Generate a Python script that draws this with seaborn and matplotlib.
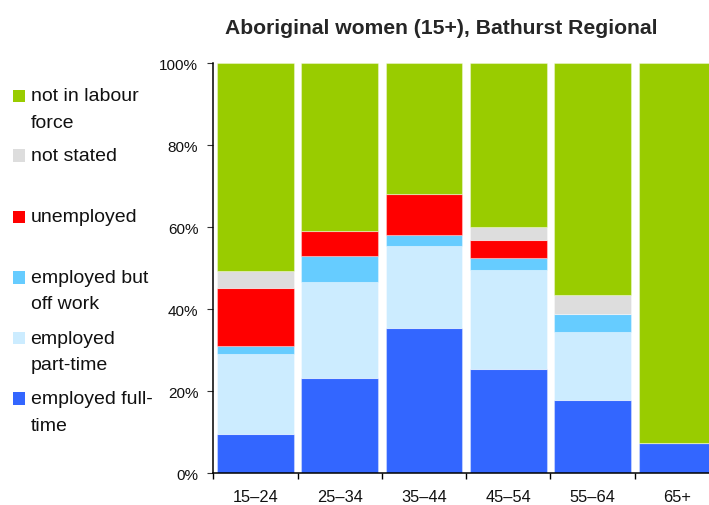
import numpy as np
import pandas as pd
import matplotlib.pyplot as plt
import seaborn as sns
from matplotlib.patches import Rectangle

# Data (percent of Aboriginal women 15+)
age_groups = ['15–24', '25–34', '35–44', '45–54', '55–64', '65+']
full_time = [9.6, 23.2, 35.4, 25.4, 18.0, 7.5]
part_time = [19.5, 23.5, 20.1, 24.1, 16.5, 0.0]
off_work = [2.0, 6.2, 2.6, 3.1, 4.4, 0.0]
unemployed = [14.1, 6.2, 10.0, 4.2, 0.0, 0.0]
not_stated = [4.2, 0.0, 0.0, 3.3, 4.5, 0.0]
not_in_lf = [50.6, 40.9, 32.0, 39.9, 56.6, 92.5]

series = [
    ('employed full-\ntime', full_time, '#3366FF'),
    ('employed\npart-time', part_time, '#CCECFF'),
    ('employed but\noff work', off_work, '#66CCFF'),
    ('unemployed', unemployed, '#FF0000'),
    ('not stated', not_stated, '#DDDDDD'),
    ('not in labour\nforce', not_in_lf, '#99CC00'),
]

sns.set_style('white')
plt.rcParams['font.family'] = ['Liberation Sans', 'DejaVu Sans']

W, H = 709, 506
fig = plt.figure(figsize=(W / 100, H / 100), dpi=100)
# plot area runs slightly past the right edge of the picture, as in the original
ax = fig.add_axes([213.3 / W, 1 - 474.3 / H, (719 - 213.3) / W, (474.3 - 64.3) / H])

bottom = np.zeros(len(age_groups))
for name, vals, col in series:
    df = pd.DataFrame({'age': age_groups, 'pct': vals})
    sns.barplot(data=df, x='age', y='pct', order=age_groups, color=col, saturation=1,
                width=0.91, bottom=bottom, edgecolor=(1, 1, 1, 0.35), linewidth=0.8,
                ax=ax, errorbar=None)
    bottom = bottom + np.array(vals)

ax.set_xlim(-0.5, len(age_groups) - 0.5)
ax.set_ylim(0, 100)
ax.set_xlabel('')
ax.set_ylabel('')
ax.set_yticks(range(0, 101, 20))
ax.set_yticklabels([f'{v}%' for v in range(0, 101, 20)], fontsize=11, color='#111111')
ax.tick_params(axis='y', direction='out', length=4.3, width=0.8, color='#333333', pad=6.5, left=True)
ax.set_xticks(range(len(age_groups)))
ax.set_xticklabels(age_groups, fontsize=11.8, color='#111111')
ax.tick_params(axis='x', which='major', length=0, pad=11)
ax.set_xticks(np.arange(-0.5, len(age_groups), 1.0), minor=True)
ax.tick_params(axis='x', which='minor', direction='out', length=4.3, width=1, color='black', bottom=True)
for s in ['top', 'right']:
    ax.spines[s].set_visible(False)
for s in ['left', 'bottom']:
    ax.spines[s].set_color('black')
    ax.spines[s].set_linewidth(1.1)

fig.text(441 / W, 1 - 34.3 / H, 'Aboriginal women (15+), Bathurst Regional',
         ha='center', va='baseline', fontsize=15.2, fontweight='bold')

# legend drawn by hand, top entry first
marker_y = [96.7, 156.3, 217.8, 278.3, 339.0, 399.6]
for (name, vals, col), yc in zip(series[::-1], marker_y):
    fig.patches.append(Rectangle((13 / W, 1 - (yc + 6.2) / H), 12.4 / W, 12.4 / H,
                                 transform=fig.transFigure, facecolor=col, edgecolor='none'))
    for i, line in enumerate(name.split('\n')):
        fig.text(30.5 / W, 1 - (yc + i * 26.5) / H, line, ha='left', va='center',
                 fontsize=14, color='#111111')

plt.savefig('out.png', dpi=100)
